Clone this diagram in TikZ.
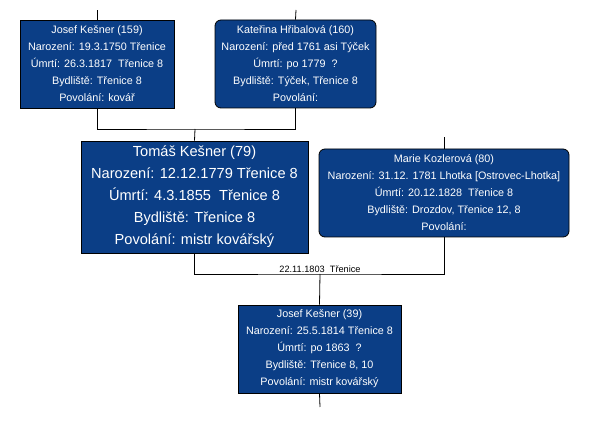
\documentclass[tikz,border=0pt]{standalone}
\usepackage{fontspec}
\setmainfont{Liberation Sans}
\usepackage{xcolor}
\usetikzlibrary{positioning}

\definecolor{rodblue}{RGB}{11,62,134}

\tikzset{
    osoba/.style={draw=black, line width=0.8pt, fill=rodblue, text=white,
        align=center, inner sep=0pt,
        font=\fontsize{10.8}{17}\selectfont},
    osobaR/.style={osoba, rounded corners=6pt},
    velka/.style={osoba, font=\fontsize{14.6}{22}\selectfont},
    vazba/.style={line width=0.8pt, black},
}

\begin{document}
\begin{tikzpicture}[x=1pt, y=-1pt]
    \useasboundingbox (0,0) rectangle (590,438);

    % rodiče otce
    \node[osoba, minimum width=154pt, minimum height=88pt] (p159) at (97,64)
        {Josef Kešner (159)\\Narození: 19.3.1750 Třenice\ \\Úmrtí: 26.3.1817\ \ Třenice 8\\Bydliště: Třenice 8\\Povolání: kovář};
    \node[osobaR, minimum width=161pt, minimum height=88pt] (p160) at (295.5,64)
        {Kateřina Hřibalová (160)\\Narození: před 1761 asi Týček\ \\Úmrtí: po 1779\ \ ?\\Bydliště: Týček, Třenice 8\\Povolání:};

    % rodiče
    \node[velka, minimum width=227pt, minimum height=112pt] (p79) at (194.5,197)
        {Tomáš Kešner (79)\\Narození: 12.12.1779 Třenice 8\ \ \\Úmrtí: 4.3.1855\ \ Třenice 8\\Bydliště: Třenice 8\\Povolání: mistr kovářský};
    \node[osobaR, minimum width=250pt, minimum height=88pt] (p80) at (444,193)
        {Marie Kozlerová (80)\\Narození: 31.12. 1781 Lhotka [Ostrovec-Lhotka]\\Úmrtí: 20.12.1828\ \ Třenice 8\\Bydliště: Drozdov, Třenice 12, 8\\Povolání:};

    % dítě
    \node[osoba, minimum width=163pt, minimum height=88pt] (p39) at (319.5,349)
        {Josef Kešner (39)\\Narození: 25.5.1814 Třenice 8\\Úmrtí: po 1863\ \ ?\\Bydliště: Třenice 8, 10\\Povolání: mistr kovářský};

    % body spojnic
    \coordinate (s159) at (97,10);
    \coordinate (s160) at (296,10);
    \coordinate (s80) at (444,137);
    \coordinate (s39) at (320,407);
    \coordinate (m1) at (195,129);
    \coordinate (m2) at (320,274);

    % spojnice
    \draw[vazba] (p159.north) -- (s159);
    \draw[vazba] (p160.north) -- (s160);
    \draw[vazba] (p80.north) -- (s80);
    \draw[vazba] (p159.south) |- (m1) -| (p160.south);
    \draw[vazba] (m1) -- (p79.north);
    \draw[vazba] (p79.south) |- (m2) -| (p80.south);
    \draw[vazba] (m2) -- (p39.north);
    \draw[vazba] (p39.south) -- (s39);

    % sňatek
    \node[above=1.5pt of m2, inner sep=0pt, font=\fontsize{9.2}{10}\selectfont] (snatek)
        {22.11.1803\ \ Třenice};
\end{tikzpicture}
\end{document}
